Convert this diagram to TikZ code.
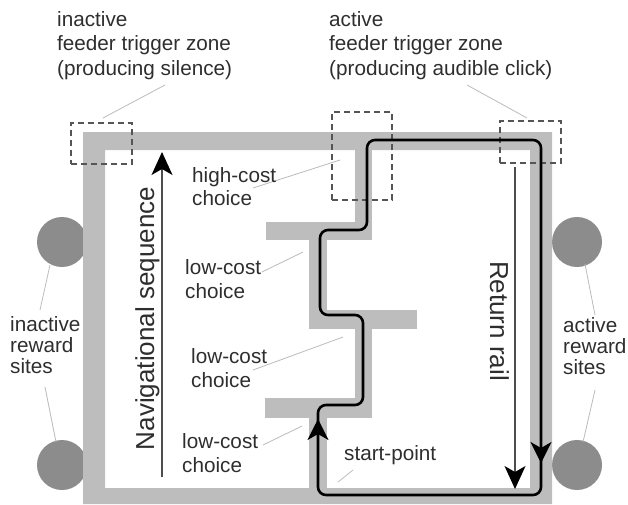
\documentclass[tikz,border=0pt]{standalone}
\usepackage{fontspec}
\setmainfont{Liberation Sans}
\usetikzlibrary{arrows.meta}
\definecolor{band}{HTML}{BDBDBD}
\definecolor{site}{HTML}{8C8C8C}
\definecolor{ink}{HTML}{2E2E2E}
\definecolor{lead}{HTML}{BBBBBB}
\definecolor{zonec}{HTML}{555555}
\newcommand\txtlines[2]{{\fontsize{20.7}{#1}\selectfont\begin{tabular}[t]{@{}l@{}}#2\end{tabular}}}
\begin{document}
\begin{tikzpicture}[x=1pt,y=-1pt,
  bandfill/.style={fill=band},
  sitedot/.style={circle,fill=site,minimum size=50pt,inner sep=0pt},
  zonebox/.style={draw=zonec,line width=2.3pt,dash pattern=on 6pt off 4pt,inner sep=0pt},
  leader/.style={draw=lead,line width=0.8pt},
  track/.style={draw=black,line width=2.6pt,rounded corners=8pt},
  tracktip/.style={draw=black,line width=2.6pt,-{Stealth[length=21pt 0,width=21pt 0,inset=6pt 0]}},
  seqarrow/.style={draw=ink!85,line width=1.2pt,-{Stealth[length=23pt 0,width=21pt 0,inset=6pt 0,color=black]}},
  lbl/.style={anchor=base west,inner sep=0pt,text=ink},
  biglbl/.style={anchor=base,inner sep=0pt,text=ink,font=\fontsize{26}{30}\selectfont}]
\useasboundingbox (0,0) rectangle (628,504);
% reward sites
\node[sitedot] (rs1) at (62,242) {};
\node[sitedot] (rs2) at (62,465) {};
\node[sitedot] (rs3) at (577,242) {};
\node[sitedot] (rs4) at (577,465) {};
% frame
\fill[bandfill,even odd rule] (83,132) rectangle (552,504) (105,150) rectangle (530,488);
% maze corridors
\fill[bandfill] (355,148) rectangle (372,222);
\fill[bandfill] (266,222) rectangle (372,240);
\fill[bandfill] (309,240) rectangle (327,310);
\fill[bandfill] (309,310) rectangle (417,329);
\fill[bandfill] (355,329) rectangle (372,398);
\fill[bandfill] (265,398) rectangle (372,418);
\fill[bandfill] (309,418) rectangle (327,490);
% leader line end points
\coordinate (a1) at (165,85);  \coordinate (b1) at (103,118);
\coordinate (a2) at (467,85);  \coordinate (b2) at (527,118);
\coordinate (a3) at (253,188); \coordinate (b3) at (340,160);
\coordinate (a4) at (262,272); \coordinate (b4) at (303,252);
\coordinate (a5) at (253,370); \coordinate (b5) at (343,337);
\coordinate (a6) at (263,445); \coordinate (b6) at (302,426);
\coordinate (a7) at (338,482); \coordinate (b7) at (353,470);
\coordinate (a8) at (40,310);  \coordinate (b8) at (50,265);
\coordinate (a9) at (45,387);  \coordinate (b9) at (56,442);
\coordinate (a10) at (595,315); \coordinate (b10) at (585,264);
\coordinate (a11) at (595,390); \coordinate (b11) at (583,442);
\foreach \i in {1,...,11} \draw[leader] (a\i) -- (b\i);
% trigger zones
\node[zonebox,minimum width=61pt,minimum height=41pt] (z1) at (101.5,143.5) {};
\node[zonebox,minimum width=60pt,minimum height=88pt] (z2) at (362,156) {};
\node[zonebox,minimum width=61pt,minimum height=42pt] (z3) at (530.5,142) {};
% navigation track
\coordinate (p0) at (318,495);
\coordinate (p1) at (318,405);
\coordinate (p2) at (363,405);
\coordinate (p3) at (363,315);
\coordinate (p4) at (320,315);
\coordinate (p5) at (320,230);
\coordinate (p6) at (367,230);
\coordinate (p7) at (367,140);
\coordinate (p8) at (541,140);
\coordinate (p9) at (541,495);
\draw[track] (p0) -- (p1) -- (p2) -- (p3) -- (p4) -- (p5) -- (p6) -- (p7) -- (p8) -- (p9) -- cycle;
\coordinate (t1a) at (318,450); \coordinate (t1b) at (318,419);
\coordinate (t2a) at (541,430); \coordinate (t2b) at (541,463);
\draw[tracktip] (t1a) -- (t1b);
\draw[tracktip] (t2a) -- (t2b);
% sequence arrows
\coordinate (n1) at (162,477); \coordinate (n2) at (162,152);
\draw[seqarrow] (n1) -- (n2);
\coordinate (r1) at (515,167); \coordinate (r2) at (515,489);
\draw[seqarrow] (r1) -- (r2);
\node[biglbl,rotate=90] (nav) at (154,318.5) {Navigational sequence};
\node[biglbl,rotate=-90] (ret) at (490,321) {Return rail};
% labels
\node[lbl] (tz1) at (57,26) {\txtlines{24.5}{inactive\\feeder trigger zone\\(producing silence)}};
\node[lbl] (tz2) at (329,26) {\txtlines{24.5}{active\\feeder trigger zone\\(producing audible click)}};
\node[lbl] (hc) at (192,182) {\txtlines{23.5}{high-cost\\choice}};
\node[lbl] (lc1) at (185,274) {\txtlines{24}{low-cost\\choice}};
\node[lbl] (lc2) at (191,363) {\txtlines{24}{low-cost\\choice}};
\node[lbl] (lc3) at (182,448) {\txtlines{24}{low-cost\\choice}};
\node[lbl] (irs) at (10,331) {\txtlines{21}{inactive\\reward\\sites}};
\node[lbl] (ars) at (563,332) {\txtlines{21}{active\\reward\\sites}};
\node[lbl] (sp) at (344,460) {\txtlines{24}{start-point}};
\end{tikzpicture}
\end{document}
